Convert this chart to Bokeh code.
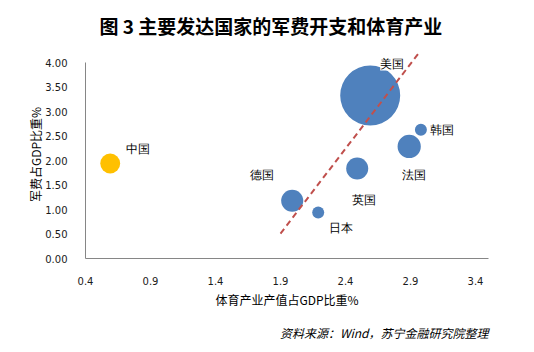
from bokeh.plotting import figure
from bokeh.models import ColumnDataSource, LabelSet, Range1d, FixedTicker, NumeralTickFormatter, Title
from bokeh.embed import file_html
from bokeh.resources import INLINE
import numpy as np

countries = ["中国", "美国", "韩国", "法国", "英国", "德国", "日本"]
sports_gdp = [0.59, 2.59, 2.98, 2.89, 2.49, 1.99, 2.19]
military_gdp = [1.94, 3.33, 2.63, 2.29, 1.84, 1.18, 0.94]
bubble_value = [11.0, 100.0, 4.0, 15.0, 13.5, 13.5, 4.0]
trend_x = [1.90, 2.97]
trend_y = [0.51, 4.22]
x_ticks = [0.4, 0.9, 1.4, 1.9, 2.4, 2.9, 3.4]
y_ticks = [0.0, 0.5, 1.0, 1.5, 2.0, 2.5, 3.0, 3.5, 4.0]

colors = ["#FFC000"] + ["#4F81BD"] * 6
diam = [60 * np.sqrt(v / max(bubble_value)) for v in bubble_value]
x_off = [28, 22, 21, 5, 7, -30, 23]
y_off = [15, 32, 0, -29, -32, 26, -16]

src = ColumnDataSource(dict(x=sports_gdp, y=military_gdp, name=countries,
                            size=diam, color=colors, xo=x_off, yo=y_off))

FONT = "Noto Sans CJK SC"
p = figure(width=534, height=352, output_backend="svg", toolbar_location=None,
           x_range=Range1d(0.4, 3.5), y_range=Range1d(0, 4.25),
           min_border_left=85, min_border_right=46, min_border_top=50, min_border_bottom=94)
p.outline_line_color = None
p.grid.grid_line_color = None
p.background_fill_color = "white"

p.scatter("x", "y", size="size", fill_color="color", line_color=None, source=src)
p.line(trend_x, trend_y, line_color="#C0504D", line_width=2, line_dash="6 4")

labels = LabelSet(x="x", y="y", text="name", x_offset="xo", y_offset="yo", source=src,
                  text_align="center", text_baseline="middle", text_font=FONT,
                  text_font_size="12px", text_color="black",
                  background_fill_color="white")
p.add_layout(labels)

for ax, ticks, fmt in ((p.xaxis[0], x_ticks, "0.0"), (p.yaxis[0], y_ticks, "0.00")):
    ax.ticker = FixedTicker(ticks=ticks)
    ax.formatter = NumeralTickFormatter(format=fmt)
    ax.axis_line_color = "#868686"
    ax.major_tick_line_color = None
    ax.minor_tick_line_color = None
    ax.major_label_text_font = "DejaVu Sans"
    ax.major_label_text_font_size = "10px"
    ax.major_label_text_color = "#1a1a1a"
    ax.axis_label_text_font = FONT
    ax.axis_label_text_font_size = "12px"
    ax.axis_label_text_font_style = "normal"
    ax.axis_label_text_color = "black"

p.xaxis[0].bounds = (0.4, 3.5)
p.yaxis[0].bounds = (0, 4.0)
p.xaxis[0].axis_label = "体育产业产值占GDP比重%"
p.yaxis[0].axis_label = "军费占GDP比重%"
p.xaxis[0].major_label_standoff = 12
p.yaxis[0].major_label_standoff = 12
p.xaxis[0].axis_label_standoff = 3
p.yaxis[0].axis_label_standoff = -2

p.title = None
p.add_layout(Title(text="图 3 主要发达国家的军费开支和体育产业", align="left", offset=14,
                   text_font=FONT, text_font_size="19px", text_font_style="bold",
                   text_color="black", standoff=19, vertical_align="top"), "above")
p.add_layout(Title(text="资料来源：Wind，苏宁金融研究院整理", align="right", offset=0,
                   text_font=FONT, text_font_size="12px", text_font_style="italic",
                   text_color="black", standoff=23), "below")

open("out.html", "w").write(file_html(p, INLINE))
